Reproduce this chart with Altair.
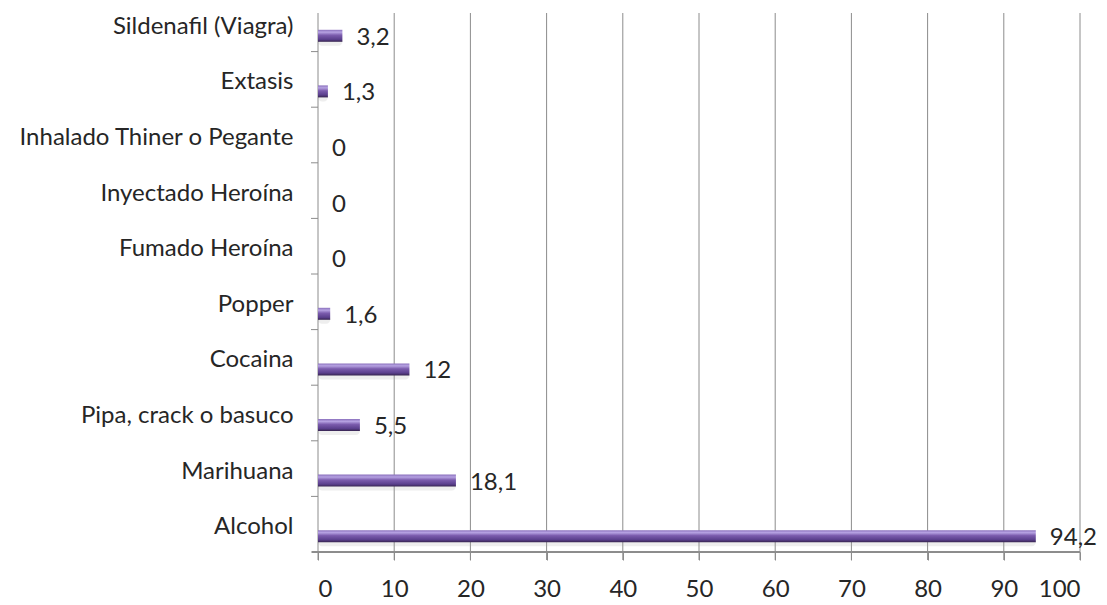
import altair as alt
import pandas as pd

# Substances, top to bottom as listed on the chart
categories = [
    "Sildenafil (Viagra)",
    "Extasis",
    "Inhalado Thiner o Pegante",
    "Inyectado Heroína",
    "Fumado Heroína",
    "Popper",
    "Cocaina",
    "Pipa, crack o basuco",
    "Marihuana",
    "Alcohol",
]
values = [3.2, 1.3, 0, 0, 0, 1.6, 12, 5.5, 18.1, 94.2]
x_ticks = list(range(0, 101, 10))

df = pd.DataFrame({"sustancia": categories, "pct": values})
df["etiqueta"] = [f"{v:g}".replace(".", ",") for v in values]
grid_df = pd.DataFrame({"v": x_ticks})

W, H = 762, 552
FONT = "Lato"
FS = 24
TXT = "#262626"
GRID = "#8c8c8c"

x_scale = alt.Scale(domain=[0, 100], nice=False, zero=True)
y_scale = alt.Scale(domain=categories, range=[-4, 552], paddingInner=0, paddingOuter=0)

bar_fill = alt.Gradient(
    gradient="linear",
    x1=0, x2=0, y1=0, y2=1,
    stops=[
        alt.GradientStop(offset=0, color="#8a70bc"),
        alt.GradientStop(offset=0.2, color="#b6a2e2"),
        alt.GradientStop(offset=0.45, color="#7b5cad"),
        alt.GradientStop(offset=0.8, color="#5a3f8c"),
        alt.GradientStop(offset=1, color="#36244f"),
    ],
)

# Vertical gridlines starting at the back wall
grid = alt.Chart(grid_df).mark_rule(color=GRID, strokeWidth=1).encode(
    x=alt.X("v:Q", scale=x_scale),
    y=alt.value(13),
    y2=alt.value(560),
)

# Floor line along the bottom
floor = alt.Chart(grid_df).mark_rule(color=GRID, strokeWidth=1).encode(
    x=alt.value(-6),
    x2=alt.value(W),
    y=alt.value(H),
)

# Category ticks at band boundaries
cat_ticks = alt.Chart(df).mark_rule(color=GRID, strokeWidth=1, yOffset=55.6 / 2).encode(
    y=alt.Y("sustancia:N", scale=y_scale, sort=categories),
    x=alt.value(-7),
    x2=alt.value(0),
)

# Soft shadow under each bar
shadow = alt.Chart(df).mark_bar(
    color="#a0a0a0", opacity=0.18, size=8, yOffset=18, cornerRadius=4
).encode(
    x=alt.X("pct:Q", scale=x_scale),
    x2=alt.datum(0),
    y=alt.Y("sustancia:N", scale=y_scale, sort=categories),
)

bars = alt.Chart(df).mark_bar(color=bar_fill, size=12, yOffset=12).encode(
    x=alt.X(
        "pct:Q",
        scale=x_scale,
        axis=alt.Axis(
            values=x_ticks,
            grid=False,
            domain=True,
            domainColor=GRID,
            ticks=True,
            tickSize=8,
            tickColor=GRID,
            labelFont=FONT,
            labelFontSize=FS,
            labelColor=TXT,
            labelPadding=17,
            title=None,
        ),
    ),
    y=alt.Y(
        "sustancia:N",
        scale=y_scale,
        sort=categories,
        axis=alt.Axis(
            domain=False,
            ticks=False,
            labelFont=FONT,
            labelFontSize=FS,
            labelColor=TXT,
            labelPadding=25,
            labelOffset=3,
            labelLimit=320,
            title=None,
        ),
    ),
)

labels = alt.Chart(df).mark_text(
    align="left", baseline="middle", dx=14, dy=14, font=FONT, fontSize=FS, color=TXT
).encode(
    x=alt.X("pct:Q", scale=x_scale),
    y=alt.Y("sustancia:N", scale=y_scale, sort=categories),
    text="etiqueta:N",
)

chart = (
    alt.layer(grid, floor, cat_ticks, shadow, bars, labels)
    .properties(
        width=W,
        height=H,
        autosize=alt.AutoSizeParams(type="none"),
        padding={"left": 318, "top": 0, "right": 27, "bottom": 53},
        background="white",
    )
    .configure_view(stroke=None)
)

chart.save("out.html", embed_options={"renderer": "svg", "actions": False})
